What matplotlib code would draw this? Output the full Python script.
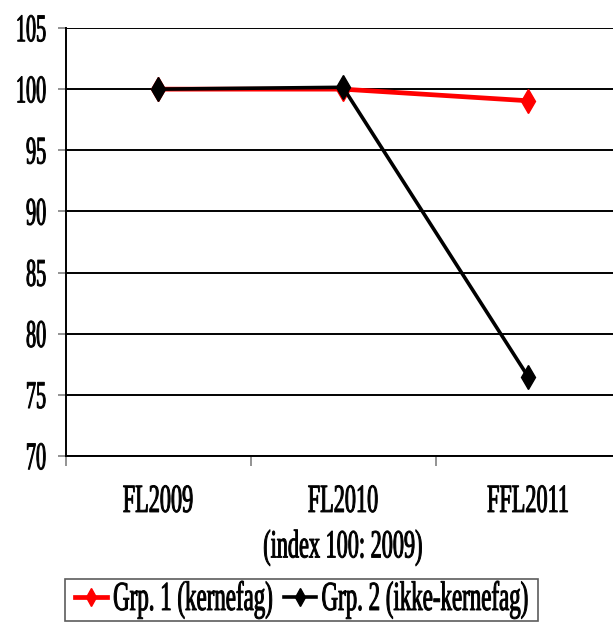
import matplotlib
matplotlib.use('Agg')
import matplotlib.pyplot as plt
from matplotlib.patheffects import AbstractPathEffect
from matplotlib.transforms import Affine2D

categories = ['FL2009', 'FL2010\n(index 100: 2009)', 'FFL2011']
grp1 = [100.0, 100.0, 99.05]
grp2 = [100.0, 100.15, 76.5]
series_labels = ['Grp. 1 (kernefag)', 'Grp. 2 (ikke-kernefag)']
yticks = [70, 75, 80, 85, 90, 95, 100, 105]


class Stretch(AbstractPathEffect):
    """Stretch glyphs vertically about their centre and embolden slightly."""
    def __init__(self, ky, stroke=0.7):
        super().__init__()
        self.ky = ky
        self.stroke = stroke

    def draw_path(self, renderer, gc, tpath, affine, rgbFace=None):
        ext = tpath.get_extents(affine)
        cy = (ext.y0 + ext.y1) / 2
        new = affine + Affine2D().translate(0, -cy).scale(1, self.ky).translate(0, cy)
        gc0 = renderer.new_gc()
        gc0.copy_properties(gc)
        gc0.set_linewidth(self.stroke)
        if rgbFace is not None:
            gc0.set_foreground(rgbFace)
        gc0.set_joinstyle('round')
        renderer.draw_path(gc0, tpath, new, rgbFace)
        gc0.restore()


FS = 16
pe = [Stretch(1.8)]
pe_y = [Stretch(1.95)]
plt.rcParams['font.family'] = ['Liberation Serif', 'DejaVu Serif']

W, H = 613, 628
fig = plt.figure(figsize=(W / 100, H / 100), dpi=100)
ax = fig.add_axes([65.5 / W, 1 - 456 / H, 555 / W, 428 / H])

x = list(range(len(categories)))
ax.plot(x, grp1, color='#ff0000', lw=3.4, marker='d', ms=12, mec='#ff0000',
        mfc='#ff0000', label=series_labels[0], zorder=3)
ax.plot(x, grp2, color='black', lw=2.6, marker='d', ms=12, mec='black',
        mfc='black', label=series_labels[1], zorder=4)

ax.set_xlim(-0.5, 2.5)
ax.set_ylim(70, 105)
ax.set_yticks(yticks)
ax.set_yticklabels([str(v) for v in yticks])
ax.yaxis.grid(True, color='black', lw=1.4)
ax.set_axisbelow(True)

ax.set_xticks([-0.5, 0.5, 1.5, 2.5])
ax.set_xticklabels([])
ax.set_xticks(x, minor=True)
ax.set_xticklabels(categories, minor=True)
ax.tick_params(axis='x', which='minor', length=0, pad=26, labelsize=FS)
ax.tick_params(axis='x', which='major', length=7.5, width=1.2, color='#808080',
               direction='out')
ax.tick_params(axis='y', length=6, width=1.2, color='#808080', pad=8,
               labelsize=14.5)

for s in ['top', 'right']:
    ax.spines[s].set_visible(False)
ax.spines['left'].set_color('black')
ax.spines['left'].set_linewidth(1.4)
ax.spines['bottom'].set_color('black')
ax.spines['bottom'].set_linewidth(1.4)

for t in ax.get_yticklabels():
    t.set_path_effects(pe_y)
for t in ax.get_xticklabels(minor=True):
    t.set_path_effects(pe)
    t.set_linespacing(2.95)

leg = fig.legend(loc='upper left', bbox_to_anchor=(65 / W, 1 - 579 / H),
                 bbox_transform=fig.transFigure, ncol=2, frameon=True,
                 fancybox=False, edgecolor='#333333', borderpad=0.45,
                 handlelength=1.4, handletextpad=0.25, columnspacing=0.5,
                 borderaxespad=0, markerscale=0.75, fontsize=FS + 0.5)
leg.get_frame().set_linewidth(1.2)
for t in leg.get_texts():
    t.set_path_effects(pe)

fig.savefig('out.png', dpi=100)
